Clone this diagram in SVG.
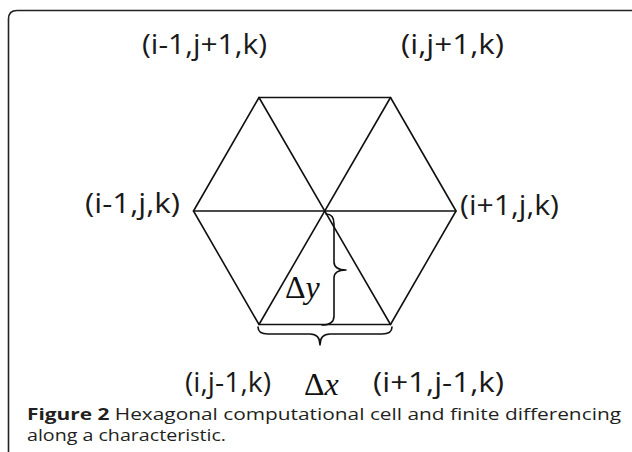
<svg xmlns="http://www.w3.org/2000/svg" width="632" height="452" viewBox="0 0 632 452">
<style>
.lbl{font-family:"Open Sans","Liberation Sans",sans-serif;font-size:28px;fill:#1a1a1a}
.math{font-family:"Liberation Serif","DejaVu Serif",serif;font-size:32px;fill:#111}
.cap{font-family:"Open Sans","Liberation Sans",sans-serif;font-size:16.5px;fill:#231f20}
.edge{fill:none;stroke:#111;stroke-width:1.6;stroke-linecap:round;stroke-linejoin:round}
.brace{fill:none;stroke:#111;stroke-width:1.6;stroke-linecap:round;stroke-linejoin:round}
</style>
<rect x="0" y="0" width="632" height="452" fill="#fff"/>
<path d="M 8.5 460 L 8.5 19 Q 8.5 10.5 17 10.5 L 640 10.5" fill="none" stroke="#222" stroke-width="1.6"/>
<g id="connectors">
<path class="edge" d="M 259 97.5 L 390.5 97.5 L 456 211 L 390.5 324.5 L 259 324.5 L 193.5 211 Z"/>
<line class="edge" x1="193.5" y1="211" x2="456" y2="211"/>
<line class="edge" x1="259" y1="97.5" x2="390.5" y2="324.5"/>
<line class="edge" x1="390.5" y1="97.5" x2="259" y2="324.5"/>
<path class="brace" d="M 326 214 Q 334 214 334 224 L 334 262 Q 334 270 346 270 Q 334 270 334 278 L 334 316 Q 334 325 322 325"/>
<path class="brace" d="M 258 327 Q 258 334 268 334 L 310 334 Q 320 334 320 345 Q 320 334 330 334 L 382 334 Q 392 334 392 327"/>
</g>
<g id="n-top-left"><text class="lbl" x="142" y="54" textLength="125" lengthAdjust="spacingAndGlyphs">(i-1,j+1,k)</text></g>
<g id="n-top-right"><text class="lbl" x="401" y="54" textLength="103" lengthAdjust="spacingAndGlyphs">(i,j+1,k)</text></g>
<g id="n-left"><text class="lbl" x="85" y="213" textLength="95" lengthAdjust="spacingAndGlyphs">(i-1,j,k)</text></g>
<g id="n-right"><text class="lbl" x="460" y="215" textLength="99" lengthAdjust="spacingAndGlyphs">(i+1,j,k)</text></g>
<g id="n-bottom-left"><text class="lbl" x="185" y="392" textLength="86" lengthAdjust="spacingAndGlyphs">(i,j-1,k)</text></g>
<g id="n-bottom-right"><text class="lbl" x="373" y="392" textLength="131" lengthAdjust="spacingAndGlyphs">(i+1,j-1,k)</text></g>
<g id="dy"><text class="math" x="285" y="298">Δ<tspan font-style="italic">y</tspan></text></g>
<g id="dx"><text class="math" x="304" y="395">Δ<tspan font-style="italic">x</tspan></text></g>
<g id="caption">
<text class="cap" x="27" y="420" textLength="594" lengthAdjust="spacingAndGlyphs"><tspan font-weight="bold">Figure 2</tspan> Hexagonal computational cell and finite differencing</text>
<text class="cap" x="27" y="440.5" textLength="199" lengthAdjust="spacingAndGlyphs">along a characteristic.</text>
</g>
</svg>
